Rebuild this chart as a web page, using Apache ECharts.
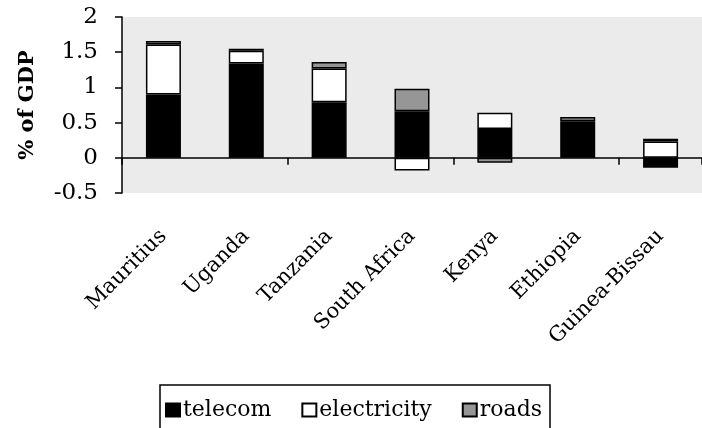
<!DOCTYPE html>
<html>
<head>
<meta charset="utf-8">
<script src="https://cdn.jsdelivr.net/npm/echarts@6/dist/echarts.min.js"></script>
<style>
  html, body { margin: 0; padding: 0; background: #fff; }
  #chart { width: 702px; height: 428px; }
</style>
</head>
<body>
<div id="chart"></div>
<script>
const categories = ['Mauritius', 'Uganda', 'Tanzania', 'South Africa', 'Kenya', 'Ethiopia', 'Guinea-Bissau'];
const telecom = [0.9, 1.34, 0.79, 0.66, 0.41, 0.48, -0.14];
const electricity = [0.71, 0.18, 0.48, -0.18, 0.23, 0.04, 0.23];
const roads = [0.05, 0.03, 0.09, 0.32, -0.07, 0.06, 0.04];
const yTicks = { min: -0.5, max: 2, interval: 0.5 };

const font = '"DejaVu Serif", "Liberation Serif", serif';

const chart = echarts.init(document.getElementById('chart'), null, { renderer: 'canvas' });

function barSeries(name, data, color) {
  return {
    name: name,
    type: 'bar',
    stack: 'total',
    data: data,
    barWidth: 35,
    itemStyle: { color: color, borderColor: '#000', borderWidth: 1.5 },
    emphasis: { disabled: true },
  };
}

const option = {
  animation: false,
  textStyle: { fontFamily: font },
  grid: {
    left: 122,
    top: 17,
    width: 586,
    height: 176,
    show: true,
    backgroundColor: '#ebebeb',
    borderWidth: 0,
  },
  legend: {
    top: 385,
    left: 160,
    icon: 'rect',
    itemWidth: 14,
    itemHeight: 13,
    itemGap: 30,
    padding: [14, 8, 30, 5],
    borderColor: '#000',
    borderWidth: 1.5,
    textStyle: { fontFamily: font, fontSize: 22, color: '#000', padding: [0, 0, 0, -2] },
    data: ['telecom', 'electricity', 'roads'],
  },
  xAxis: [
    {
      type: 'category',
      data: categories,
      axisLine: { onZero: true, lineStyle: { color: '#000', width: 1.5 } },
      axisTick: { show: true, length: 7, lineStyle: { color: '#000', width: 1.5 } },
      axisLabel: { show: false },
      splitLine: { show: false },
    },
    {
      type: 'category',
      data: categories,
      position: 'bottom',
      axisLine: { show: false, onZero: false },
      axisTick: { show: false },
      axisLabel: {
        rotate: 45,
        margin: 40,
        interval: 0,
        fontFamily: font,
        fontSize: 21,
        color: '#000',
      },
    },
  ],
  yAxis: {
    type: 'value',
    min: yTicks.min,
    max: yTicks.max,
    interval: yTicks.interval,
    name: '% of GDP',
    nameLocation: 'middle',
    nameGap: 84,
    nameTextStyle: { fontFamily: font, fontSize: 21, fontWeight: 'bold', color: '#000' },
    axisLine: { show: true, lineStyle: { color: '#000', width: 1.5 } },
    axisTick: { show: true, length: 7, lineStyle: { color: '#000', width: 1.5 } },
    axisLabel: { margin: 24, fontFamily: font, fontSize: 23, color: '#000' },
    splitLine: { show: false },
  },
  series: [
    barSeries('telecom', telecom, '#000000'),
    barSeries('electricity', electricity, '#ffffff'),
    barSeries('roads', roads, '#969696'),
  ],
};

chart.setOption(option);
</script>
</body>
</html>
